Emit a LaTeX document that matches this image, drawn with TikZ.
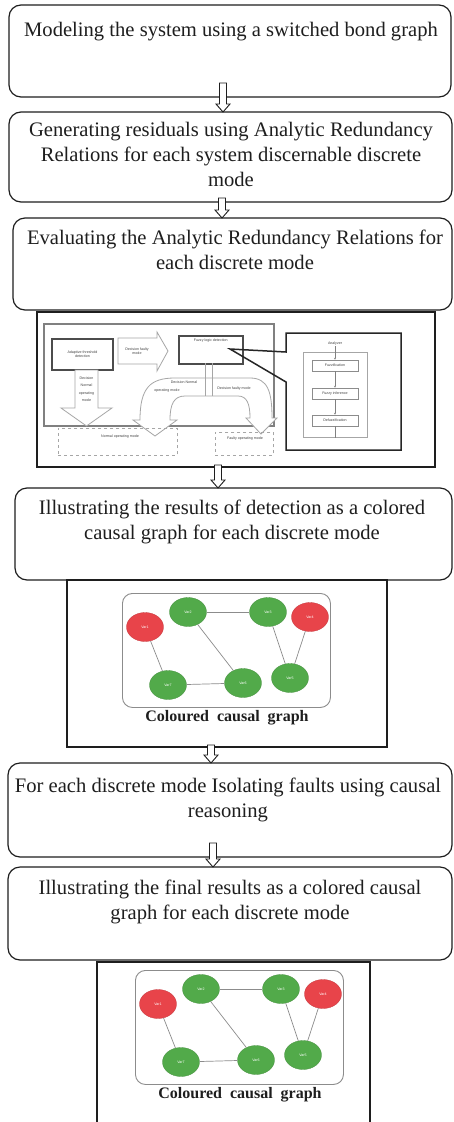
\documentclass[tikz,border=0pt]{standalone}
\usepackage{fontspec}
\setmainfont{Liberation Serif}
\newfontfamily\tinysans{Liberation Sans}
\usetikzlibrary{calc,shapes.geometric,arrows.meta}
\definecolor{gnode}{HTML}{52AA4A}
\definecolor{rnode}{HTML}{E8444A}
\definecolor{ink}{HTML}{1E1E1E}
\tikzset{
  stepbox/.style={draw=ink, line width=1.2pt, rounded corners=12pt, inner sep=0pt, outer sep=0pt, anchor=north west},
  btext/.style={font=\fontsize{20.6}{25}\selectfont, text=ink, align=center, inner sep=0pt, anchor=north, execute at begin node=\strut},
  framebox/.style={draw=ink, line width=1.2pt, inner sep=0pt, outer sep=0pt, anchor=north west},
  harrow/.style={draw=ink, fill=white, line width=0.9pt, to path={
    let \p1=(\tikztostart), \p2=(\tikztotarget) in
    (\x1-3.5pt,\y1) -- (\x1-3.5pt,\y2+8pt) -- (\x1-7pt,\y2+8pt) -- (\x1,\y2) -- (\x1+7pt,\y2+8pt) -- (\x1+3.5pt,\y2+8pt) -- (\x1+3.5pt,\y1) -- cycle}},
  dtxt/.style={font=\tinysans\fontsize{3.6}{4.4}\selectfont, text=black!75, align=center, inner sep=0pt},
  gv/.style={ellipse, fill=gnode, draw=gnode!85!black, line width=0.3pt, minimum width=37pt, minimum height=29pt, inner sep=0pt, font=\tinysans\fontsize{3.6}{4}\selectfont, text=white},
  rv/.style={gv, fill=rnode, draw=rnode!85!black},
  cedge/.style={draw=black!45, line width=0.7pt},
  captxt/.style={font=\fontsize{16}{18}\selectfont\bfseries, text=ink, inner sep=0pt}
}
\newcommand{\cgraph}[3]{%
\begin{scope}[shift={(#1,#2)}]
\node[draw=black!45, line width=0.9pt, rounded corners=10pt, minimum width=208pt, minimum height=114pt, anchor=north west, inner sep=0pt] (#3r) at (122,593) {};
\node[rv] (#3v1) at (145,627) {Var1};
\node[gv] (#3v2) at (188,612) {Var2};
\node[gv] (#3v3) at (268,612) {Var3};
\node[rv] (#3v4) at (310,617) {Var4};
\node[gv] (#3v5) at (290,678) {Var5};
\node[gv] (#3v6) at (243,683) {Var6};
\node[gv] (#3v7) at (168,685) {Var7};
\draw[cedge] (#3v1) -- (#3v7);
\draw[cedge] (#3v2) -- (#3v3);
\draw[cedge] (#3v2) -- (#3v6);
\draw[cedge] (#3v7) -- (#3v6);
\draw[cedge] (#3v3) -- (#3v5);
\draw[cedge] (#3v4) -- (#3v5);
\node[captxt] (#3c) at (227,718) {Coloured\hspace{8pt}causal\hspace{8pt}graph};
\end{scope}}
\begin{document}
\begin{tikzpicture}[x=1pt,y=-1pt]
\useasboundingbox[fill=white] (0,0) rectangle (453,1122);

% main step boxes
\node[stepbox, minimum width=442pt, minimum height=92pt] (b1) at (9,5) {};
\node[btext] (t1) at (231,18.5) {Modeling the system using a switched bond graph};
\node[stepbox, minimum width=443pt, minimum height=90pt] (b2) at (9,112) {};
\node[btext] (t2) at (231,122.5) {Generating residuals using Analytic Redundancy\\Relations for each system discernable discrete\\mode};
\node[stepbox, minimum width=439pt, minimum height=92pt] (b3) at (13,218) {};
\node[btext] (t3) at (235,229.5) {Evaluating the Analytic Redundancy Relations for\\each discrete mode};

% frame with detection scheme
\node[framebox, minimum width=398pt, minimum height=155pt] (f1) at (37,312) {};
\draw[ink, line width=2.6pt] (f1.north west) -- (f1.north east);

\node[stepbox, minimum width=437pt, minimum height=92pt] (b4) at (15,488) {};
\node[btext] (t4) at (232,499.5) {Illustrating the results of detection as a colored\\causal graph for each discrete mode};

\node[framebox, minimum width=320pt, minimum height=167pt] (f2) at (67,580) {};

\node[stepbox, minimum width=444pt, minimum height=94pt] (b5) at (8,763) {};
\node[btext] (t5) at (228,777.5) {For each discrete mode Isolating faults using causal\\reasoning};
\node[stepbox, minimum width=444pt, minimum height=93pt] (b6) at (8,867) {};
\node[btext] (t6) at (230,879.5) {Illustrating the final results as a colored causal\\graph for each discrete mode};

\draw[ink, line width=1.2pt] (97,1130) -- (97,962) -- (370,962) -- (370,1130);
\draw[ink, line width=2pt] (97,962) -- (370,962);

% hollow arrows
\coordinate (a1) at (223,83);
\coordinate (a2) at (222,198);
\coordinate (a3) at (218,465);
\coordinate (a4) at (211,745);
\coordinate (a5) at (213,843);
\draw[harrow] (a1) to (a1 |- b2.north);
\draw[harrow] (a2) to (a2 |- b3.north);
\draw[harrow] (a3) to (a3 |- b4.north);
\draw[harrow] (a4) to (a4 |- b5.north);
\draw[harrow] (a5) to (a5 |- b6.north);

% ---- detection scheme picture ----
\node[draw=black!50, line width=1.5pt, minimum width=230pt, minimum height=102pt, anchor=north west, inner sep=0pt] (outer) at (43,323) {};
\node[draw=black!70, line width=1.6pt, minimum width=61pt, minimum height=31pt, inner sep=0pt, dtxt] (atd) at (82.5,354.5) {Adaptive threshold\\detection};
\draw[draw=black!35, fill=white, line width=0.8pt] (118,338) -- (157,338) -- (157,332) -- (168,351) -- (157,371) -- (157,364) -- (118,364) -- cycle;
\node[dtxt] (dfm) at (137,351) {Decision faulty\\mode};
\node[draw=black!70, line width=1.6pt, minimum width=64pt, minimum height=28pt, inner sep=0pt, anchor=north west] (fld) at (178,335) {};
\node[dtxt] (fldt) at ($(fld.north)+(0,6)$) {Fuzzy logic detection};
\draw[draw=black!35, fill=white, line width=0.8pt] (75,370) -- (98,370) -- (98,408) -- (112,408) -- (86.5,426) -- (61,408) -- (75,408) -- cycle;
\node[dtxt, font=\tinysans\fontsize{3.6}{7.5}\selectfont] (dnm) at (86.5,389) {Decision\\Normal\\operating\\mode};
% stem and arch
\draw[draw=black!35, line width=0.8pt] (205,363) -- (205,396) (212,363) -- (212,396);
\draw[draw=black!35, fill=white, line width=0.8pt]
  (140,420) .. controls (140,388) and (150,378) .. (175,378) -- (250,378)
  .. controls (268,378) and (272,392) .. (272,418) -- (277,418) -- (261,434) -- (246,418) -- (250,418)
  .. controls (250,404) and (247,396) .. (238,396) -- (185,396)
  .. controls (174,396) and (170,404) .. (170,420) -- (177,420) -- (155,436) -- (133,420) -- cycle;
\draw[draw=black!35, line width=0.8pt] (205,378) -- (205,396) (212,378) -- (212,396);
\node[dtxt] (dn1) at (184,382) {Decision Normal};
\node[dtxt] (dn2) at (167,391) {operating mode};
\node[dtxt] (df1) at (234,389) {Decision faulty mode};
\node[draw=black!35, dashed, line width=0.6pt, minimum width=119pt, minimum height=27pt, anchor=north west, inner sep=0pt] (nom) at (58,428) {};
\node[dtxt] (nomt) at (120,437) {Normal operating mode};
\node[draw=black!35, dashed, line width=0.6pt, minimum width=58pt, minimum height=23pt, anchor=north west, inner sep=0pt] (fom) at (215,432) {};
\node[dtxt] (fomt) at (245,439) {Faulty operating mode};
% callout
\draw[black!85, line width=1.5pt, line join=miter] (286,352) -- (286,333) -- (401,333) -- (401,450) -- (286,450) -- (286,382) -- (230,349) -- cycle;
\node[dtxt] (ttl) at (335,344) {Analyzer};
\node[draw=black!35, line width=0.6pt, minimum width=64pt, minimum height=85pt, anchor=north west, inner sep=0pt] (inr) at (303,352) {};
\node[draw=black!45, line width=0.6pt, minimum width=46pt, minimum height=11pt, inner sep=0pt, dtxt] (fz1) at (335,365.5) {Fuzzification};
\node[draw=black!45, line width=0.6pt, minimum width=46pt, minimum height=11pt, inner sep=0pt, dtxt] (fz2) at (335,393.5) {Fuzzy inference};
\node[draw=black!45, line width=0.6pt, minimum width=46pt, minimum height=11pt, inner sep=0pt, dtxt] (fz3) at (335,420.5) {Defuzzification};
\draw[black!50, line width=0.4pt, -{Stealth[length=2pt,width=2pt]}] (ttl.south) -- (fz1.north);
\draw[black!50, line width=0.4pt, -{Stealth[length=2pt,width=2pt]}] (fz1.south) -- (fz2.north);
\draw[black!50, line width=0.4pt, -{Stealth[length=2pt,width=2pt]}] (fz2.south) -- (fz3.north);
\draw[black!50, line width=0.4pt] (fz3.south) -- (fz3.south |- inr.south);

% causal graphs
\cgraph{0}{0}{ga}
\cgraph{13}{377}{gb}
\end{tikzpicture}
\end{document}
